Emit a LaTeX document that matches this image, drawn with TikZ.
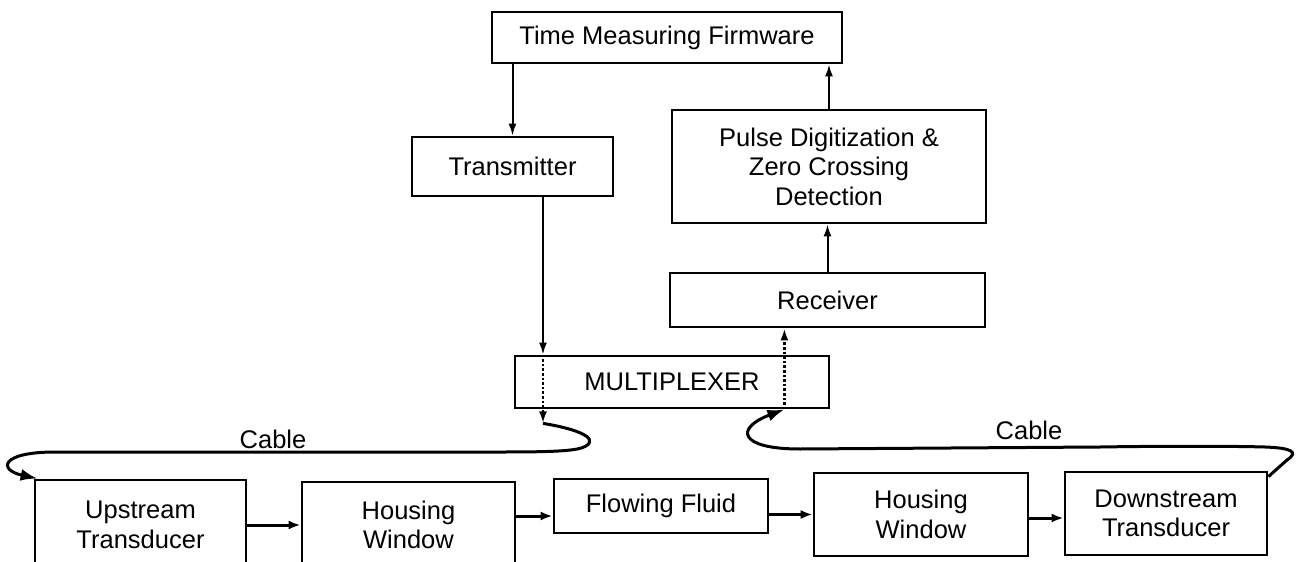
\documentclass[tikz,border=0pt]{standalone}
\usepackage{fontspec}
\setmainfont{Liberation Sans}
\usetikzlibrary{arrows.meta,calc}
\tikzset{
  blk/.style={draw, line width=2.8pt, align=center, inner sep=0pt,
              font=\fontsize{25.5}{29.5}\selectfont},
  lbl/.style={inner sep=0pt, font=\fontsize{25.5}{29.5}\selectfont},
  sigarr/.style={-{Latex[length=12pt,width=8pt]}, line width=2pt},
  flowarr/.style={-{Latex[length=12pt,width=9pt]}, line width=3pt},
  dotarr/.style={-{Latex[length=12pt,width=8pt]}, line width=2.6pt, dash pattern=on 2.6pt off 2pt},
  cablearr/.style={-{Latex[length=17pt,width=12pt]}, line width=3pt},
}
\begin{document}
\begin{tikzpicture}[x=1pt,y=-1pt]
  \useasboundingbox (0,0) rectangle (1296,562);
  \clip (0,0) rectangle (1296,562);
  % electronics
  \node[blk, minimum width=350pt, minimum height=51pt] (firm) at (667,37.5) {Time Measuring Firmware};
  \node[blk, minimum width=201pt, minimum height=59pt] (trans) at (512.5,166.5) {Transmitter};
  \node[blk, minimum width=314pt, minimum height=113pt] (pulse) at (829,166.5) {Pulse Digitization \&\\Zero Crossing\\Detection};
  \node[blk, minimum width=315pt, minimum height=54pt] (recv) at (827.5,300) {Receiver};
  \node[blk, minimum width=314pt, minimum height=52pt] (mux) at (672,382) {MULTIPLEXER};
  % acoustic path
  \node[blk, minimum width=211pt, minimum height=90pt] (up) at (140.5,525) {Upstream\\Transducer};
  \node[blk, minimum width=213pt, minimum height=86pt] (hw1) at (408.5,525) {Housing\\Window};
  \node[blk, minimum width=214pt, minimum height=54pt] (flow) at (661,506) {Flowing Fluid};
  \node[blk, minimum width=214pt, minimum height=83pt] (hw2) at (921,514.5) {Housing\\Window};
  \node[blk, minimum width=202pt, minimum height=83pt] (down) at (1166,513.5) {Downstream\\Transducer};
  \node[lbl] (cabl) at (273,439) {Cable};
  \node[lbl] (cabr) at (1029,430) {Cable};

  \draw[sigarr] (firm.south -| trans.north) -- (trans.north);
  \draw[sigarr] (pulse.north) -- (pulse.north |- firm.south);
  \draw[sigarr] (recv.north) -- (recv.north |- pulse.south);
  \coordinate (txdn) at ([xshift=30.5pt]trans.south);
  \draw[sigarr] (txdn) -- (txdn |- mux.north);
  \coordinate (lmx) at (txdn |- mux.south);
  \coordinate (lcab) at ([yshift=-14pt]lmx);
  \draw[dotarr] (txdn |- mux.north) -- (lcab);
  \coordinate (rxin) at ([xshift=-46pt]mux.south east);
  \draw[dotarr] (rxin) -- (rxin |- recv.south);

  % cables
  \draw[cablearr] (lcab) .. controls (572,428) and (600,437) .. (586,446)
    .. controls (578,451) and (555,452) .. (500,452)
    -- (55,452) .. controls (0,452) and (-2,470) .. ([xshift=4pt]up.north west);
  \draw[cablearr] ([yshift=-6pt]down.north east) -- (1287,460)
    .. controls (1299,452) and (1292,448) .. (1265,447)
    .. controls (1230,446) and (1160,446) .. (1100,447)
    -- (800,449) .. controls (738,449) and (735,428) .. (rxin);

  \draw[flowarr] (up.east) -- (hw1.west);
  \coordinate (ffin) at ([yshift=-10pt]flow.west);
  \draw[flowarr] (hw1.east |- ffin) -- (ffin);
  \draw[flowarr] (flow.east |- hw2.west) -- (hw2.west);
  \coordinate (dsin) at ([yshift=-4.5pt]down.west);
  \draw[flowarr] (hw2.east |- dsin) -- (dsin);
\end{tikzpicture}
\end{document}
